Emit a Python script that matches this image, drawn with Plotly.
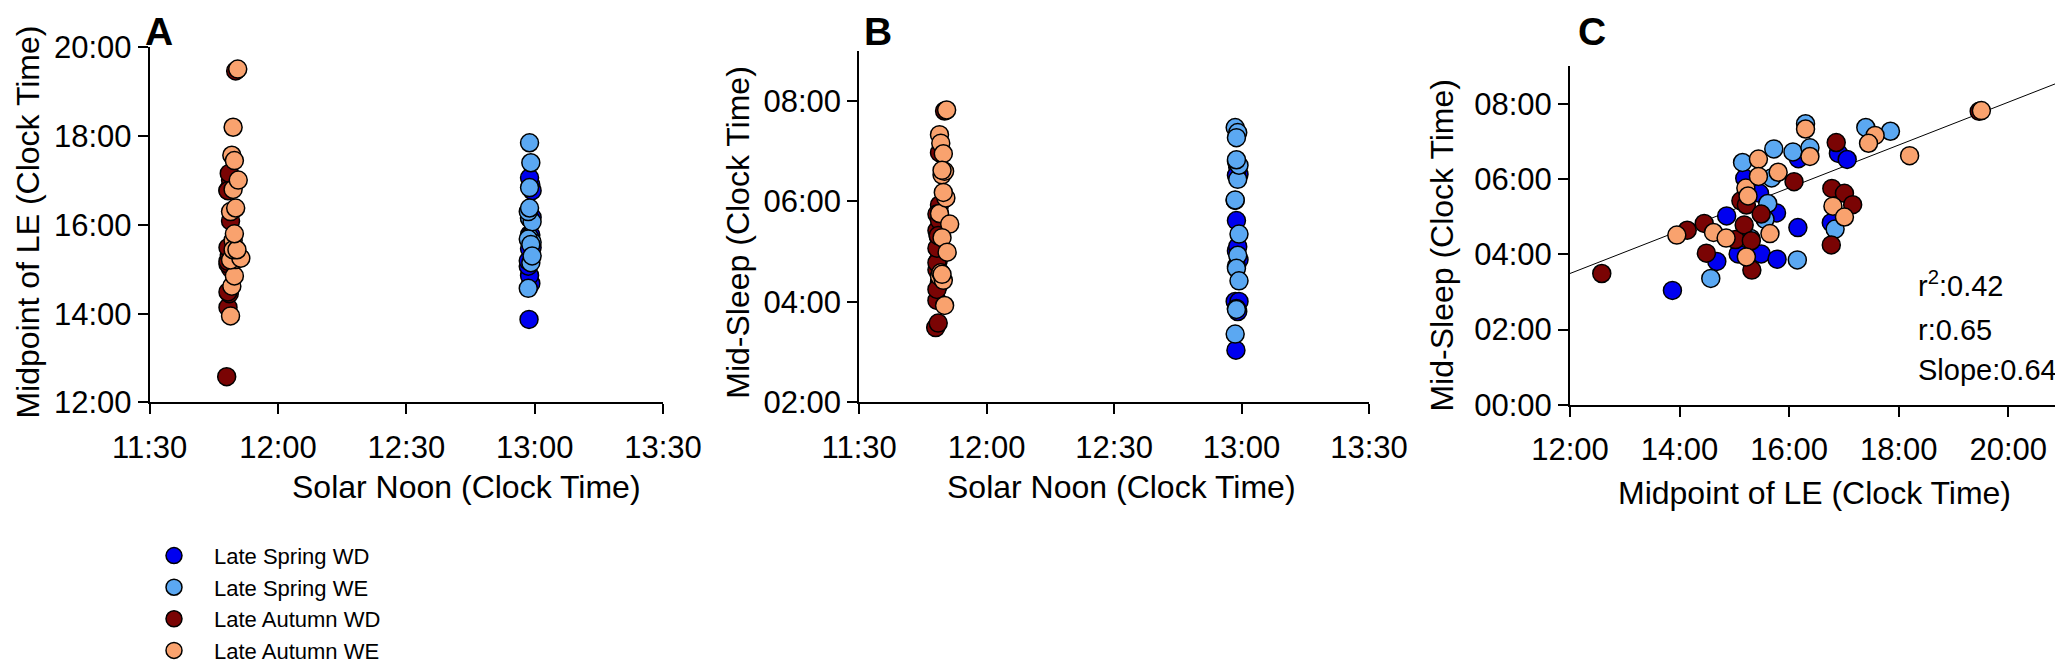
import plotly.graph_objects as go

W, H = 2063, 664

# ---------------- data (decimal clock hours) ----------------
# Late Spring WD
spring_wd_noon = [12.978, 12.985, 12.980, 12.975, 12.990, 12.980, 12.985,
                  12.980, 12.975, 12.990, 12.985, 12.980, 12.990, 12.980]
spring_wd_le = [13.87, 14.68, 14.86, 15.07, 15.49, 15.78, 15.77,
                15.46, 15.19, 16.17, 16.90, 17.06, 16.77, 16.16]
spring_wd_sleep = [3.04, 3.81, 5.02, 4.01, 4.01, 3.87, 5.10,
                   5.62, 6.02, 6.54, 6.68, 6.52, 4.84, 4.71]

# Late Spring WE
spring_we_noon = [12.975, 12.980, 12.985, 12.980, 12.990, 12.975, 12.980,
                  12.985, 12.980, 12.990, 12.975, 12.985, 12.980, 12.990]
spring_we_le = [14.57, 16.15, 15.15, 15.72, 16.07, 16.30, 16.38,
                17.40, 17.85, 15.61, 15.68, 15.56, 16.84, 15.30]
spring_we_sleep = [3.36, 3.85, 6.44, 6.80, 6.72, 7.47, 6.83,
                   7.37, 7.27, 5.35, 6.03, 4.93, 4.67, 4.42]

# Late Autumn WD
autumn_wd_noon = [11.800, 11.805, 11.810, 11.805, 11.815, 11.805, 11.810, 11.805, 11.815,
                  11.810, 11.805, 11.815, 11.815, 11.805, 11.815, 11.810, 11.805, 11.835]
autumn_wd_le = [12.58, 14.14, 14.45, 14.49, 15.02, 15.12, 15.22, 15.18, 15.31,
                15.32, 15.49, 16.09, 16.86, 16.78, 17.01, 17.16, 16.77, 19.47]
autumn_wd_sleep = [3.49, 4.64, 4.82, 4.03, 4.39, 5.42, 5.31, 4.78, 4.36,
                   3.58, 5.07, 5.93, 6.97, 5.75, 5.62, 5.32, 4.25, 7.80]

# Late Autumn WE
autumn_we_noon = [11.815, 11.820, 11.830, 11.835, 11.825, 11.815, 11.855, 11.825, 11.840,
                  11.830, 11.815, 11.835, 11.825, 11.845, 11.820, 11.830, 11.825, 11.843]
autumn_we_le = [13.95, 14.62, 14.85, 15.22, 15.65, 15.21, 15.25, 15.44, 15.44,
                15.80, 16.30, 16.38, 16.80, 17.01, 17.57, 17.45, 18.20, 19.51]
autumn_we_sleep = [4.51, 4.58, 4.43, 3.93, 4.55, 5.76, 5.55, 6.53, 6.07,
                   6.18, 7.33, 6.60, 5.28, 4.99, 7.16, 6.95, 6.62, 7.82]

# regression line in panel C
fit_le = [12.0, 21.0]
fit_sleep = [3.49, 8.61]

# ticks
noon_tickvals = [11.5, 12.0, 12.5, 13.0, 13.5]
noon_ticktext = ["11:30", "12:00", "12:30", "13:00", "13:30"]
le_tickvals = [12, 14, 16, 18, 20]
le_ticktext = ["12:00", "14:00", "16:00", "18:00", "20:00"]
sleepB_tickvals = [2, 4, 6, 8]
sleepB_ticktext = ["02:00", "04:00", "06:00", "08:00"]
sleepC_tickvals = [0, 2, 4, 6, 8]
sleepC_ticktext = ["00:00", "02:00", "04:00", "06:00", "08:00"]

stats_lines = ["r<sup>2</sup>:0.42", "r:0.65", "Slope:0.64"]
group_names = ["Late Spring WD", "Late Spring WE", "Late Autumn WD", "Late Autumn WE"]
group_colors = ["#0000F0", "#5BA8F2", "#7A0404", "#F9A26E"]

groups = [
    (spring_wd_noon, spring_wd_le, spring_wd_sleep),
    (spring_we_noon, spring_we_le, spring_we_sleep),
    (autumn_wd_noon, autumn_wd_le, autumn_wd_sleep),
    (autumn_we_noon, autumn_we_le, autumn_we_sleep),
]

FONT = "Arial, Liberation Sans, sans-serif"

def px_x(p):
    return p / W

def px_y(p):
    return 1 - p / H

fig = go.Figure()

# fit line first (below markers)
fig.add_trace(go.Scatter(x=fit_le, y=fit_sleep, mode="lines",
                         line=dict(color="black", width=1),
                         xaxis="x3", yaxis="y3", showlegend=False, hoverinfo="skip"))

MS = 18
for (noon, le, sleep), name, color in zip(groups, group_names, group_colors):
    mk = dict(size=MS, color=color, line=dict(color="black", width=1.5))
    fig.add_trace(go.Scatter(x=noon, y=le, mode="markers", marker=mk, name=name,
                             xaxis="x", yaxis="y", showlegend=True, legendgroup=name))
    fig.add_trace(go.Scatter(x=noon, y=sleep, mode="markers", marker=mk, name=name,
                             xaxis="x2", yaxis="y2", showlegend=False, legendgroup=name))
    fig.add_trace(go.Scatter(x=le, y=sleep, mode="markers", marker=mk, name=name,
                             xaxis="x3", yaxis="y3", showlegend=False, legendgroup=name))

TICKFONT = dict(family=FONT, size=31, color="black")
axis_common = dict(showline=True, linecolor="black", linewidth=2, ticks="outside",
                   ticklen=10, tickwidth=2, tickcolor="black", showgrid=False,
                   zeroline=False, tickfont=TICKFONT, mirror=False, automargin=False)

fig.update_layout(
    width=W, height=H,
    margin=dict(l=0, r=0, t=0, b=0),
    paper_bgcolor="white", plot_bgcolor="white",
    font=dict(family=FONT, color="black"),
    xaxis=dict(domain=[px_x(141.7), px_x(655)], range=[11.5, 13.5], anchor="y",
               tickvals=noon_tickvals, ticktext=noon_ticktext, ticklabelstandoff=6, **axis_common),
    yaxis=dict(domain=[px_y(411.8), px_y(41.1)], range=[12, 20], anchor="x",
               tickvals=le_tickvals, ticktext=le_ticktext, **axis_common),
    xaxis2=dict(domain=[px_x(851.2), px_x(1361)], range=[11.5, 13.5], anchor="y2",
                tickvals=noon_tickvals, ticktext=noon_ticktext, ticklabelstandoff=6, **axis_common),
    yaxis2=dict(domain=[px_y(411.8), px_y(44.6)], range=[2, 9], anchor="x2",
                tickvals=sleepB_tickvals, ticktext=sleepB_ticktext, **axis_common),
    xaxis3=dict(domain=[px_x(1562), px_x(2055)], range=[12, 21], anchor="y3",
                tickvals=le_tickvals, ticktext=le_ticktext, ticklabelstandoff=6, **axis_common),
    yaxis3=dict(domain=[px_y(414.3), px_y(60.7)], range=[0, 9], anchor="x3",
                tickvals=sleepC_tickvals, ticktext=sleepC_ticktext, **axis_common),
    legend=dict(x=px_x(126), y=px_y(550), xanchor="left", yanchor="top",
                font=dict(family=FONT, size=22, color="black"),
                bgcolor="rgba(0,0,0,0)", itemwidth=70, tracegroupgap=0),
    showlegend=True,
)

annotations = []
TITLE = 32
# panel letters (top-anchored so they are not clipped)
for txt, x in [("A", 150.8), ("B", 870), ("C", 1584)]:
    annotations.append(dict(text="<b>%s</b>" % txt, x=px_x(x), y=1.0, xref="paper", yref="paper",
                            showarrow=False, xanchor="center", yanchor="top",
                            font=dict(family=FONT, size=39, color="black")))
# axis titles
for txt, x, y, ang in [("Solar Noon (Clock Time)", 458, 500, 0),
                       ("Solar Noon (Clock Time)", 1113, 500, 0),
                       ("Midpoint of LE (Clock Time)", 1806, 506, 0),
                       ("Midpoint of LE (Clock Time)", 20, 224, -90),
                       ("Mid-Sleep (Clock Time)", 730.6, 234, -90),
                       ("Mid-Sleep (Clock Time)", 1434, 248, -90)]:
    annotations.append(dict(text=txt, x=px_x(x), y=px_y(y), xref="paper", yref="paper",
                            showarrow=False, xanchor="center", yanchor="middle", textangle=ang,
                            font=dict(family=FONT, size=TITLE, color="black")))
# statistics text
for txt, y in zip(stats_lines, [288, 336, 378]):
    annotations.append(dict(text=txt, x=px_x(1908), y=px_y(y), xref="paper", yref="paper",
                            showarrow=False, xanchor="left", yanchor="middle",
                            font=dict(family=FONT, size=29, color="black")))
fig.update_layout(annotations=annotations)

fig.write_html("out.html")
